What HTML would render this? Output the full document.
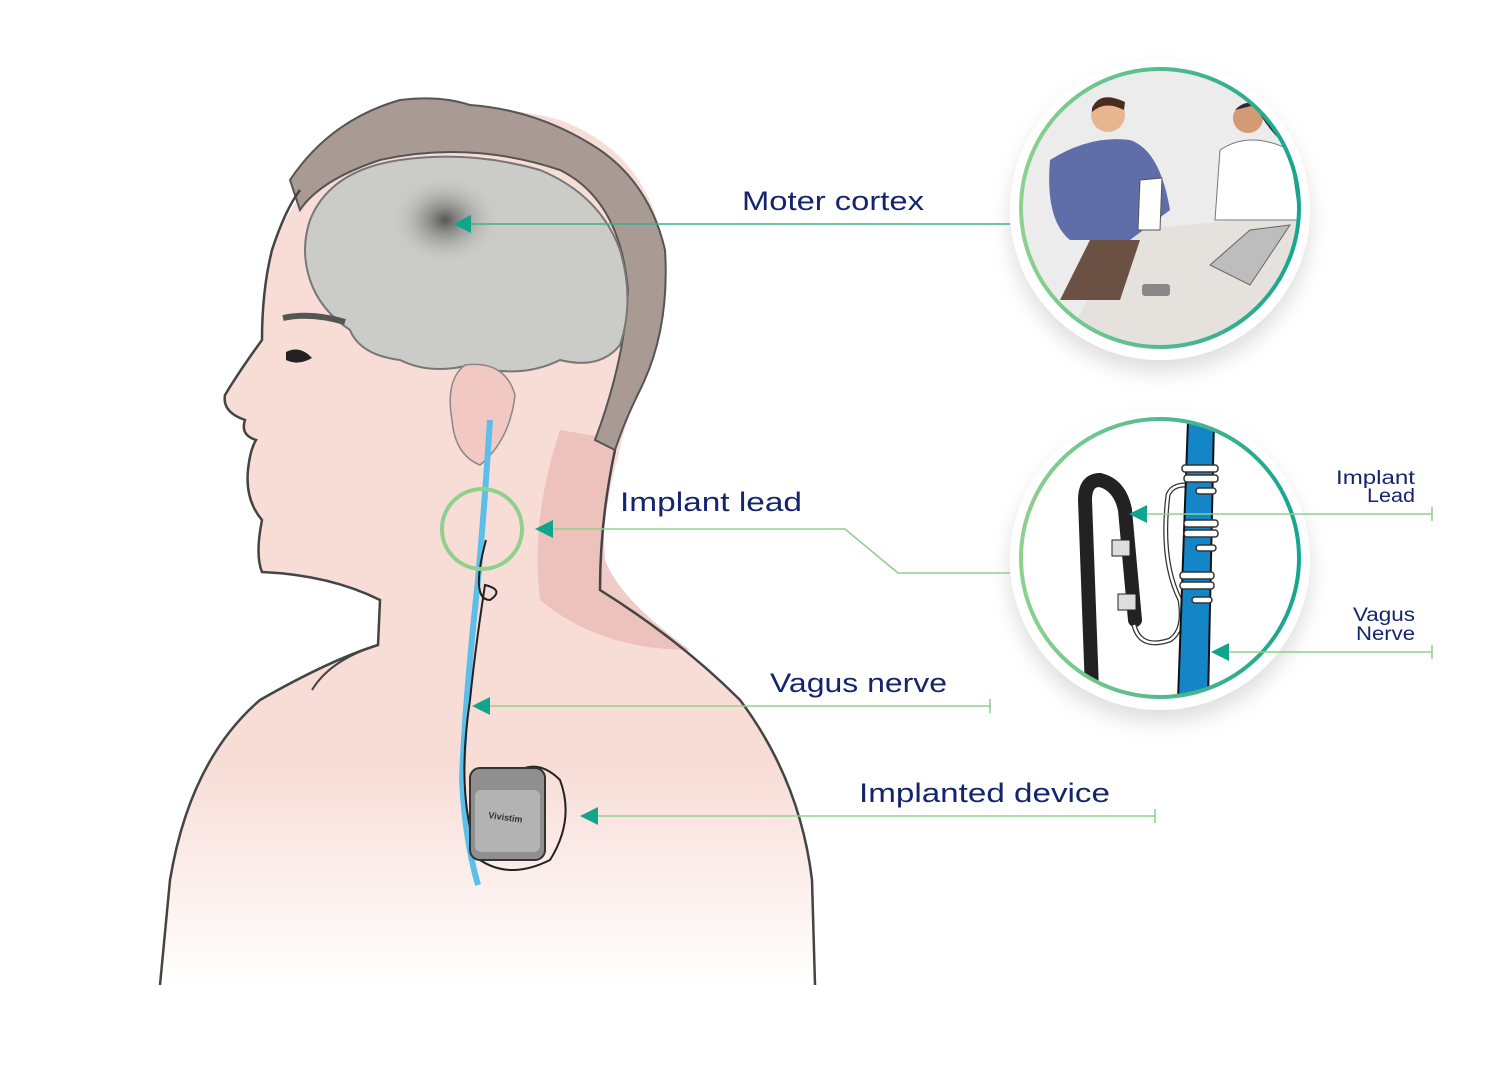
<!DOCTYPE html>
<html><head><meta charset="utf-8"><style>
html,body{margin:0;padding:0;background:#fff;}
svg{display:block;font-family:"Liberation Sans",sans-serif;}
</style></head><body>
<svg width="1493" height="1073" viewBox="0 0 1493 1073" xmlns="http://www.w3.org/2000/svg">
<defs>
<linearGradient id="fade" x1="0" y1="0" x2="0" y2="1">
<stop offset="0" stop-color="#f8ddd7"/><stop offset="0.75" stop-color="#f8ddd7"/><stop offset="1" stop-color="#fff"/>
</linearGradient>
<linearGradient id="ring" x1="0" y1="0" x2="1" y2="0">
<stop offset="0" stop-color="#8fd08f"/><stop offset="1" stop-color="#16a58f"/>
</linearGradient>
<radialGradient id="spot" cx="0.5" cy="0.5" r="0.5">
<stop offset="0" stop-color="#555"/><stop offset="1" stop-color="#c9c9c6" stop-opacity="0"/>
</radialGradient>
<filter id="sh" x="-20%" y="-20%" width="140%" height="150%"><feDropShadow dx="0" dy="12" stdDeviation="10" flood-color="#000" flood-opacity="0.13"/></filter>
<clipPath id="c1"><circle cx="1160" cy="208" r="138"/></clipPath>
<clipPath id="c2"><circle cx="1160" cy="558" r="138"/></clipPath>
</defs>

<path d="M160,985 L170,880 Q190,760 260,700 Q330,660 378,645 L380,600 Q330,575 262,572 Q255,555 262,520 Q245,500 248,470 Q250,450 256,440 Q240,435 245,420 Q222,412 225,395 Q240,370 262,340 Q262,290 272,250 Q300,170 380,130 Q470,95 560,120 Q640,150 660,230 Q670,320 640,390 Q625,420 620,450 Q600,520 600,590 Q680,640 740,700 Q800,780 812,880 L815,985 Z" fill="url(#fade)"/>
<path d="M560,430 Q530,520 540,600 Q600,650 690,650 Q620,600 605,560 Q600,480 620,440 Z" fill="#eab7b0" opacity="0.7"/>
<path d="M290,180 Q330,120 400,100 Q440,95 470,105 Q540,110 600,150 Q650,185 665,250 Q670,330 640,390 Q625,420 615,450 L595,440 Q625,360 628,290 Q620,200 560,170 Q470,140 380,160 Q320,180 300,210 Z" fill="#a99a93" stroke="#555" stroke-width="2"/>
<path d="M160,985 L170,880 Q190,760 260,700 Q330,660 378,645 L380,600 Q330,575 262,572 Q255,555 262,520 Q245,500 248,470 Q250,450 256,440 Q240,435 245,420 Q222,412 225,395 Q240,370 262,340 Q262,290 272,250 Q285,210 300,190" fill="none" stroke="#444" stroke-width="2.5"/>
<path d="M615,450 Q600,520 600,590 Q680,640 740,700 Q800,780 812,880 L815,985" fill="none" stroke="#444" stroke-width="2.5"/>
<path d="M378,645 Q330,660 312,690" fill="none" stroke="#444" stroke-width="2"/>
<path d="M310,220 Q330,170 400,160 Q470,150 540,170 Q600,195 620,250 Q635,300 620,345 Q600,370 560,360 Q520,380 470,365 Q430,375 400,360 Q360,355 350,330 Q320,310 310,280 Q300,250 310,220 Z" fill="#cbcbc7" stroke="#777" stroke-width="2"/>
<ellipse cx="445" cy="220" rx="55" ry="45" fill="url(#spot)"/>
<path d="M465,365 Q505,360 515,395 Q510,440 480,465 Q455,455 452,420 Q445,380 465,365 Z" fill="#f2c9c2" stroke="#888" stroke-width="1.5"/>
<path d="M283,318 Q310,312 345,322" stroke="#555" stroke-width="6" fill="none"/>
<path d="M286,352 Q300,345 312,358 Q298,366 286,360 Z" fill="#222"/>
<path d="M490,420 Q485,500 478,580 Q465,700 462,780 Q465,840 478,885" stroke="#5bbfea" stroke-width="6" fill="none"/>
<path d="M486,540 Q470,600 490,600 Q505,590 485,585 Q475,650 470,700 Q455,800 480,860 Q510,880 550,860 Q575,820 560,780 Q540,760 520,770" stroke="#222" stroke-width="2" fill="none"/>
<rect x="470" y="768" width="75" height="92" rx="10" fill="#8f8f8f" stroke="#333" stroke-width="2"/>
<rect x="475" y="790" width="65" height="62" rx="6" fill="#b3b3b3"/>
<text x="488" y="818" font-size="9" font-weight="bold" fill="#333" transform="rotate(8 488 818)">Vivistim</text>
<circle cx="482" cy="529" r="40" fill="none" stroke="#8fd08f" stroke-width="4"/>

<!-- top circle -->
<circle cx="1160" cy="210" r="150" fill="#fff" filter="url(#sh)"/>
<g clip-path="url(#c1)">
<rect x="1020" y="70" width="280" height="280" fill="#ececec"/>
<polygon points="1070,330 1130,230 1300,215 1300,350 1060,350" fill="#e5e1dc"/>
<path d="M1060,300 L1090,240 L1140,240 L1120,300 Z" fill="#6b5143"/>
<path d="M1050,160 Q1090,135 1130,140 Q1160,150 1170,210 L1130,240 L1070,240 Q1045,220 1050,160 Z" fill="#5f6ea8"/>
<circle cx="1108" cy="115" r="17" fill="#e8b591"/>
<path d="M1092,108 Q1100,90 1125,102 L1124,110 Q1105,100 1092,112 Z" fill="#4a2d1e"/>
<path d="M1140,180 L1162,178 L1160,230 L1138,230 Z" fill="#fff" stroke="#555"/>
<path d="M1220,150 Q1250,130 1290,150 L1300,220 L1215,220 Z" fill="#fff" stroke="#777"/>
<circle cx="1248" cy="118" r="15" fill="#d29a75"/>
<path d="M1235,110 Q1250,95 1270,110 L1280,140 Q1265,125 1255,105 Z" fill="#2a2a3a"/>
<path d="M1210,265 L1250,230 L1290,225 L1250,285 Z" fill="#bdbdbd" stroke="#666"/>
<rect x="1142" y="284" width="28" height="12" rx="3" fill="#888"/>
</g>
<circle cx="1160" cy="208" r="139" fill="none" stroke="url(#ring)" stroke-width="4"/>

<!-- bottom circle -->
<circle cx="1160" cy="560" r="150" fill="#fff" filter="url(#sh)"/>
<g clip-path="url(#c2)">
<path d="M1092,690 L1085,500 Q1085,480 1100,480 Q1120,485 1125,510 L1135,620" stroke="#222" stroke-width="14" fill="none" stroke-linecap="round"/>
<rect x="1112" y="540" width="18" height="16" fill="#ddd" stroke="#222"/>
<rect x="1118" y="594" width="18" height="16" fill="#ddd" stroke="#222"/>
<path d="M1134,625 Q1140,650 1170,640 Q1185,630 1180,600 Q1160,560 1168,495 Q1172,485 1185,485" stroke="#333" stroke-width="5" fill="none"/>
<path d="M1134,625 Q1140,650 1170,640 Q1185,630 1180,600 Q1160,560 1168,495 Q1172,485 1185,485" stroke="#fff" stroke-width="2.5" fill="none"/>
<polygon points="1188,420 1214,420 1208,700 1178,700" fill="#1486c8" stroke="#111" stroke-width="2"/>
<g fill="#fff" stroke="#333" stroke-width="1.5">
<rect x="1182" y="465" width="36" height="7" rx="3"/><rect x="1184" y="475" width="34" height="7" rx="3"/>
<rect x="1196" y="488" width="20" height="6" rx="3"/>
<rect x="1184" y="520" width="34" height="7" rx="3"/><rect x="1184" y="530" width="34" height="7" rx="3"/>
<rect x="1196" y="545" width="20" height="6" rx="3"/>
<rect x="1180" y="572" width="34" height="7" rx="3"/><rect x="1180" y="582" width="34" height="7" rx="3"/>
<rect x="1192" y="597" width="20" height="6" rx="3"/>
</g>
</g>
<circle cx="1160" cy="558" r="139" fill="none" stroke="url(#ring)" stroke-width="4"/>

<!-- connectors on top -->
<g stroke="#8fd08f" stroke-width="1.6" fill="none">
<line x1="1010" y1="224" x2="470" y2="224" stroke="#3bb08f"/>
<polyline points="1010,573 898,573 845,529 552,529"/>
<line x1="990" y1="706" x2="488" y2="706"/><line x1="990" y1="699" x2="990" y2="713"/>
<line x1="1155" y1="816" x2="596" y2="816"/><line x1="1155" y1="809" x2="1155" y2="823"/>
<line x1="1432" y1="514" x2="1146" y2="514"/><line x1="1432" y1="507" x2="1432" y2="521"/>
<line x1="1432" y1="652" x2="1228" y2="652"/><line x1="1432" y1="645" x2="1432" y2="659"/>
</g>
<g fill="#12a58c">
<polygon points="453,224 471,215 471,233"/>
<polygon points="535,529 553,520 553,538"/>
<polygon points="472,706 490,697 490,715"/>
<polygon points="580,816 598,807 598,825"/>
<polygon points="1129,514 1147,505 1147,523"/>
<polygon points="1211,652 1229,643 1229,661"/>
</g>
<g fill="#14256e" font-size="27">
<text x="742" y="210" textLength="182" lengthAdjust="spacingAndGlyphs">Moter cortex</text>
<text x="620" y="511" textLength="182" lengthAdjust="spacingAndGlyphs">Implant lead</text>
<text x="770" y="692" textLength="177" lengthAdjust="spacingAndGlyphs">Vagus nerve</text>
<text x="859" y="802" textLength="251" lengthAdjust="spacingAndGlyphs">Implanted device</text>
</g>
<g fill="#14256e" font-size="19">
<text x="1336" y="484" textLength="79" lengthAdjust="spacingAndGlyphs">Implant</text>
<text x="1367" y="502" textLength="48" lengthAdjust="spacingAndGlyphs">Lead</text>
<text x="1353" y="621" textLength="62" lengthAdjust="spacingAndGlyphs">Vagus</text>
<text x="1356" y="640" textLength="59" lengthAdjust="spacingAndGlyphs">Nerve</text>
</g>
</svg>
</body></html>
